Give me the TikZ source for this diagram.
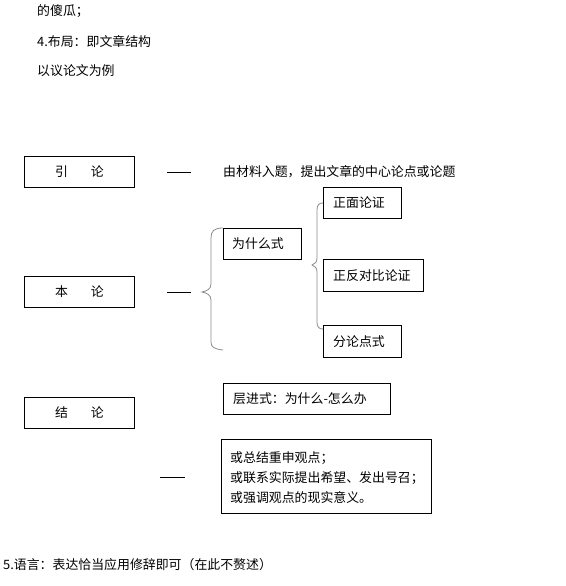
\documentclass[tikz,border=0pt]{standalone}
\usepackage{fontspec}
\setmainfont{Noto Sans CJK SC}
\begin{document}
\begin{tikzpicture}[x=1pt,y=-1pt,
  every node/.style={font=\fontsize{12.9}{15}\selectfont, inner sep=0pt},
  box/.style={draw=black, line width=0.8pt, anchor=north west},
  lbl/.style={anchor=west},
  dashline/.style={draw=black, line width=0.8pt},
  brace/.style={draw=black!45, line width=0.8pt}]
\useasboundingbox[fill=white] (0,0) rectangle (565,586);

% header text
\node[lbl] (t1) at (37,11) {的傻瓜；};
\node[lbl] (t2) at (37,42) {4.布局：即文章结构};
\node[lbl] (t3) at (37,71) {以议论文为例};

% left column boxes
\node[box, minimum width=110pt, minimum height=31pt] (yin) at (24,156) {引\hspace{23pt}论};
\node[box, minimum width=110pt, minimum height=31pt] (ben) at (24,276) {本\hspace{23pt}论};
\node[box, minimum width=110pt, minimum height=31pt] (jie) at (24,397) {结\hspace{23pt}论};

% dashes
\coordinate (d1a) at (167,172); \coordinate (d1b) at (191,172);
\coordinate (d2a) at (167,292); \coordinate (d2b) at (191,292);
\coordinate (d3a) at (160,477); \coordinate (d3b) at (185,477);
\draw[dashline] (d1a) -- (d1b);
\draw[dashline] (d2a) -- (d2b);
\draw[dashline] (d3a) -- (d3b);

% intro text
\node[lbl] (intro) at (223,172) {由材料入题，提出文章的中心论点或论题};

% body boxes
\node[box, minimum width=78pt, minimum height=31pt] (wsm) at (223,228) {};
\node[lbl] (wsmt) at ([xshift=9pt]wsm.west) {为什么式};

\node[box, minimum width=78pt, minimum height=31pt] (zm) at (323,187) {};
\node[lbl] (zmt) at ([xshift=10pt]zm.west) {正面论证};

\node[box, minimum width=100pt, minimum height=32pt] (zf) at (323,259) {};
\node[lbl] (zft) at ([xshift=10pt]zf.west) {正反对比论证};

\node[box, minimum width=78pt, minimum height=32pt] (fl) at (323,325) {};
\node[lbl] (flt) at ([xshift=10pt]fl.west) {分论点式};

\node[box, minimum width=167pt, minimum height=31pt] (cj) at (223,383) {};
\node[lbl] (cjt) at ([xshift=10pt]cj.west) {层进式：为什么-怎么办};

\node[box, minimum width=210pt, minimum height=74pt] (big) at (221,439) {};
\node[lbl, align=left, font=\fontsize{12.9}{20}\selectfont] (bigt) at ([xshift=9pt,yshift=-1pt]big.west)
  {或总结重申观点；\\或联系实际提出希望、发出号召；\\或强调观点的现实意义。};

% braces
\draw[brace] (223,228) .. controls (214,228) and (211,231) .. (211,238) -- (211,284)
  .. controls (211,289) and (207,291) .. (202,292)
  .. controls (207,293) and (211,295) .. (211,300) -- (211,342)
  .. controls (211,347) and (214,349) .. (223,350);
\draw[brace] (323,203) .. controls (319,203) and (317,205) .. (317,210) -- (317,258)
  .. controls (317,262) and (315,264) .. (312,265)
  .. controls (315,266) and (317,268) .. (317,272) -- (317,322)
  .. controls (317,327) and (319,329) .. (323,329);

% footer
\node[lbl] (t5) at (3,565) {5.语言：表达恰当应用修辞即可（在此不赘述）};
\end{tikzpicture}
\end{document}
